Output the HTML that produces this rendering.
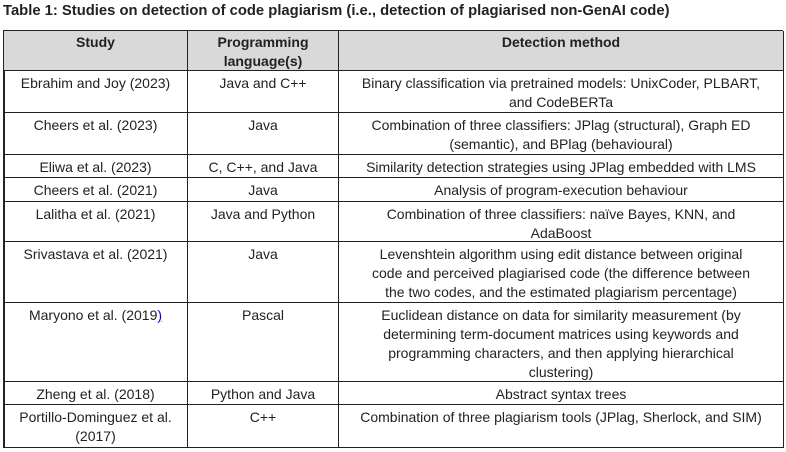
<!DOCTYPE html>
<html><head><meta charset="utf-8"><style>
body{margin:0;width:786px;height:452px;background:#fff;font-family:"Liberation Sans",sans-serif;color:#222;position:relative;overflow:hidden}
.t{position:absolute;left:3px;top:3px;font-weight:bold;font-size:14.8px}
.c{position:absolute;box-sizing:border-box;text-align:center;font-size:14px;line-height:19px;padding-top:3px;border-right:1.5px solid #222;border-bottom:1.5px solid #222;white-space:nowrap}
.h{background:#d9d9d9;font-weight:bold;padding-top:2px}
</style></head><body>
<div class="t">Table 1: Studies on detection of code plagiarism (i.e., detection of plagiarised non-GenAI code)</div>
<div style="position:absolute;left:3px;top:30px;width:780px;height:1.5px;background:#222"></div>
<div style="position:absolute;left:3px;top:30px;width:1.5px;height:418px;background:#222"></div>
<div id="g"></div>
<script>
const rows=[[31,71,"Study","Programming<br>language(s)","Detection method",1],
[71,113,"Ebrahim and Joy (2023)","Java and C++","Binary classification via pretrained models: UnixCoder, PLBART,<br>and CodeBERTa"],
[113,155,"Cheers et al. (2023)","Java","Combination of three classifiers: JPlag (structural), Graph ED<br>(semantic), and BPlag (behavioural)"],
[155,178,"Eliwa et al. (2023)","C, C++, and Java","Similarity detection strategies using JPlag embedded with LMS"],
[178,202,"Cheers et al. (2021)","Java","Analysis of program-execution behaviour"],
[202,242,"Lalitha et al. (2021)","Java and Python","Combination of three classifiers: naïve Bayes, KNN, and<br>AdaBoost"],
[242,303,"Srivastava et al. (2021)","Java","Levenshtein algorithm using edit distance between original<br>code and perceived plagiarised code (the difference between<br>the two codes, and the estimated plagiarism percentage)"],
[303,382,"Maryono et al. (2019<u style='color:#00e'>)</u>","Pascal","Euclidean distance on data for similarity measurement (by<br>determining term-document matrices using keywords and<br>programming characters, and then applying hierarchical<br>clustering)"],
[382,405,"Zheng et al. (2018)","Python and Java","Abstract syntax trees"],
[405,448,"Portillo-Dominguez et al.<br>(2017)","C++","Combination of three plagiarism tools (JPlag, Sherlock, and SIM)"]];
const cols=[[4,188],[188,339],[339,784]];let h="";
for(const r of rows){for(let i=0;i<3;i++){h+=`<div class="c${r[5]?' h':''}" style="left:${cols[i][0]}px;width:${cols[i][1]-cols[i][0]}px;top:${r[0]}px;height:${r[1]-r[0]}px">${r[2+i]}</div>`}}
document.getElementById("g").innerHTML=h;
</script>
</body></html>
